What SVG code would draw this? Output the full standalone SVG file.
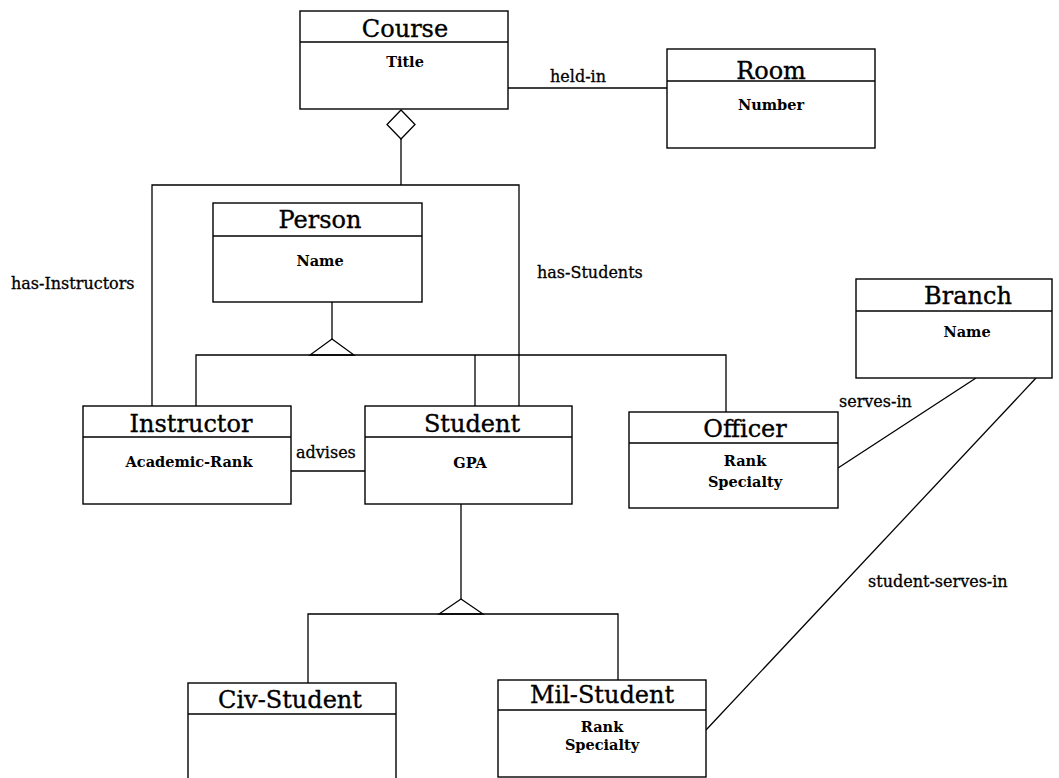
<svg xmlns="http://www.w3.org/2000/svg" width="1059" height="778" viewBox="0 0 1059 778">
  <style>
    .box { fill: #fff; stroke: #000; stroke-width: 1.4; }
    .div { stroke: #000; stroke-width: 1.4; }
    .ln { fill: none; stroke: #000; stroke-width: 1.3; }
    .title { font-family: "DejaVu Serif", "Liberation Serif", serif; font-size: 24px; text-anchor: middle; fill: #000; stroke: #000; stroke-width: 0.35; }
    .attr { font-family: "DejaVu Serif", "Liberation Serif", serif; font-size: 14.5px; font-weight: bold; text-anchor: middle; fill: #000; }
    .lbl { font-family: "DejaVu Serif", "Liberation Serif", serif; font-size: 16px; fill: #000; stroke: #000; stroke-width: 0.3; }
  </style>
  <rect width="1059" height="778" fill="#fff"/>

  <!-- connectors -->
  <g id="connectors">
    <!-- aggregation: Course to Instructor / Student -->
    <polygon class="ln" points="401,110 415,124.5 401,139 387,124.5"/>
    <polyline class="ln" points="401,139 401,185"/>
    <polyline class="ln" points="152,406 152,185 519,185 519,406"/>
    <!-- held-in -->
    <line class="ln" x1="508" y1="88" x2="667" y2="88"/>
    <!-- Person generalization -->
    <line class="ln" x1="332" y1="302" x2="332" y2="339"/>
    <polygon class="ln" points="332,339 354,355 310,355"/>
    <polyline class="ln" points="196,406 196,355 726,355 726,412"/>
    <line class="ln" x1="475" y1="355" x2="475" y2="406"/>
    <!-- advises -->
    <line class="ln" x1="291" y1="471" x2="365" y2="471"/>
    <!-- Student generalization -->
    <line class="ln" x1="461" y1="504" x2="461" y2="599"/>
    <polygon class="ln" points="461,599 483,614 439,614"/>
    <polyline class="ln" points="308,683 308,614 618,614 618,680"/>
    <!-- serves-in / student-serves-in -->
    <line class="ln" x1="976" y1="378" x2="838" y2="468"/>
    <line class="ln" x1="1036" y1="378" x2="706" y2="730"/>

    <text class="lbl" x="550" y="82">held-in</text>
    <text class="lbl" x="11" y="289">has-Instructors</text>
    <text class="lbl" x="537" y="278">has-Students</text>
    <text class="lbl" x="296" y="458">advises</text>
    <text class="lbl" x="839" y="407">serves-in</text>
    <text class="lbl" x="868" y="587">student-serves-in</text>
  </g>

  <g id="course">
    <rect class="box" x="300" y="11" width="208" height="98"/>
    <line class="div" x1="300" y1="42" x2="508" y2="42"/>
    <text class="title" x="405" y="37">Course</text>
    <text class="attr" x="405" y="67">Title</text>
  </g>

  <g id="room">
    <rect class="box" x="667" y="49" width="208" height="99"/>
    <line class="div" x1="667" y1="81" x2="875" y2="81"/>
    <text class="title" x="771" y="79">Room</text>
    <text class="attr" x="771" y="110">Number</text>
  </g>

  <g id="person">
    <rect class="box" x="213" y="203" width="209" height="99"/>
    <line class="div" x1="213" y1="236" x2="422" y2="236"/>
    <text class="title" x="320" y="228">Person</text>
    <text class="attr" x="320" y="266">Name</text>
  </g>

  <g id="branch">
    <rect class="box" x="856" y="279" width="196" height="99"/>
    <line class="div" x1="856" y1="311" x2="1052" y2="311"/>
    <text class="title" x="968" y="304">Branch</text>
    <text class="attr" x="967" y="337">Name</text>
  </g>

  <g id="instructor">
    <rect class="box" x="83" y="406" width="208" height="98"/>
    <line class="div" x1="83" y1="437" x2="291" y2="437"/>
    <text class="title" x="191" y="432">Instructor</text>
    <text class="attr" x="189" y="467">Academic-Rank</text>
  </g>

  <g id="student">
    <rect class="box" x="365" y="406" width="207" height="98"/>
    <line class="div" x1="365" y1="437" x2="572" y2="437"/>
    <text class="title" x="472" y="432">Student</text>
    <text class="attr" x="470" y="468">GPA</text>
  </g>

  <g id="officer">
    <rect class="box" x="629" y="412" width="209" height="96"/>
    <line class="div" x1="629" y1="443" x2="838" y2="443"/>
    <text class="title" x="745" y="437">Officer</text>
    <text class="attr" x="745" y="466">Rank</text>
    <text class="attr" x="745" y="487">Specialty</text>
  </g>

  <g id="civ-student">
    <rect class="box" x="188" y="683" width="208" height="110"/>
    <line class="div" x1="188" y1="714" x2="396" y2="714"/>
    <text class="title" x="290" y="708">Civ-Student</text>
  </g>

  <g id="mil-student">
    <rect class="box" x="498" y="680" width="208" height="97"/>
    <line class="div" x1="498" y1="710" x2="706" y2="710"/>
    <text class="title" x="602" y="703">Mil-Student</text>
    <text class="attr" x="602" y="732">Rank</text>
    <text class="attr" x="602" y="750">Specialty</text>
  </g>
</svg>
